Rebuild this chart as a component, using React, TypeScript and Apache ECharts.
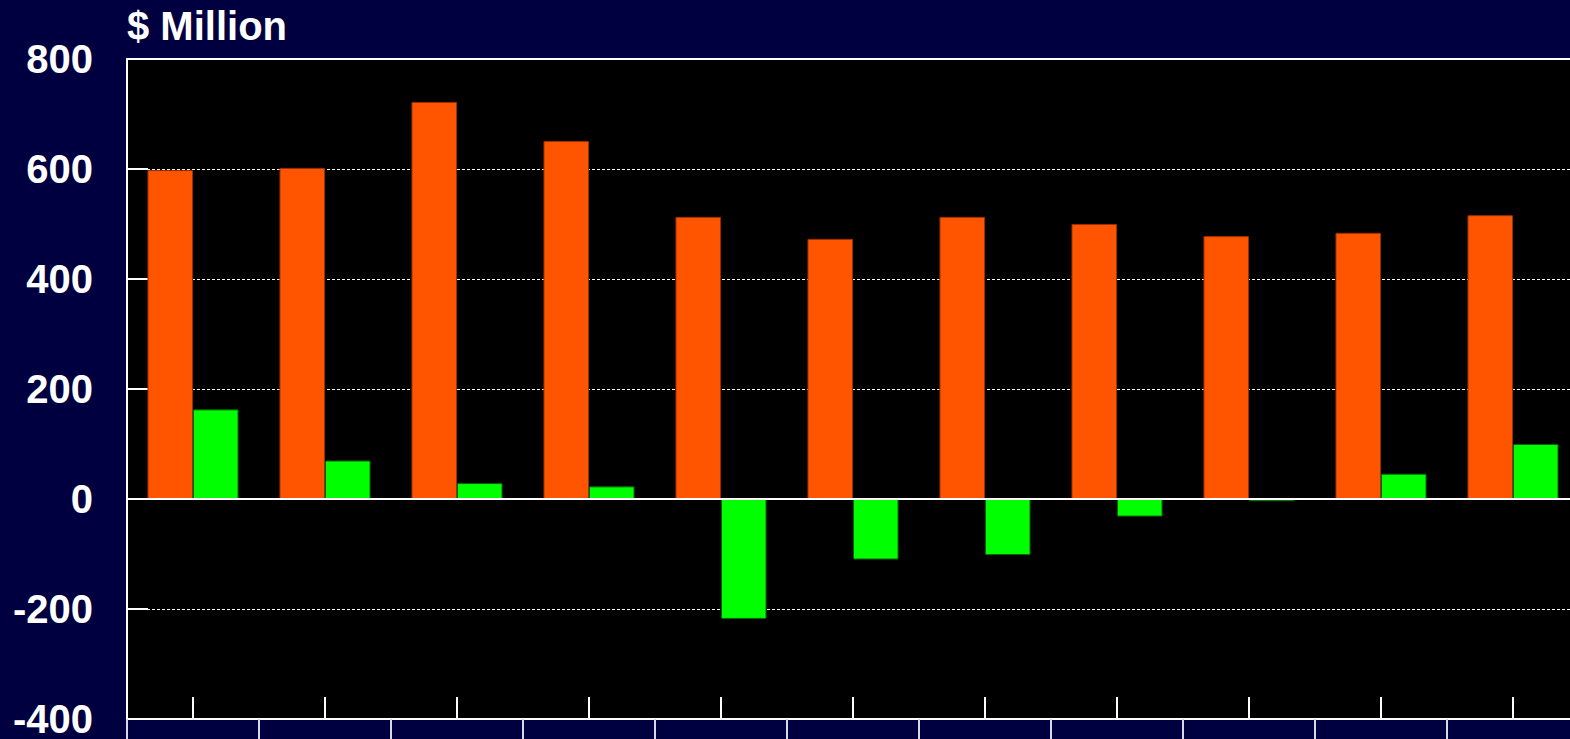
import React, { useEffect, useRef } from "react";
import * as echarts from "echarts";

const categories = ["1", "2", "3", "4", "5", "6", "7", "8", "9", "10", "11"];
const orangeValues = [598, 602, 722, 651, 513, 473, 513, 500, 478, 484, 516];
const greenValues = [163, 70, 29, 23, -218, -110, -102, -32, -4, 46, 100];
const yTicks = { min: -400, max: 800, interval: 200 };
const unitTitle = "$ Million";

const FONT = "'Liberation Sans', Arial, Helvetica, sans-serif";

export default function App() {
  const ref = useRef<HTMLDivElement>(null);
  useEffect(() => {
    document.body.style.margin = "0";
    document.body.style.overflow = "hidden";
    const chart = echarts.init(ref.current!, null, { renderer: "svg" });
    const hiddenAxis = {
      type: "category",
      data: categories,
      axisLabel: { show: false },
      splitLine: { show: false },
    };
    chart.setOption({
      animation: false,
      backgroundColor: "#000040",
      textStyle: { fontFamily: FONT },
      title: {
        text: unitTitle,
        left: 122,
        top: 1,
        textStyle: { color: "#fff", fontSize: 40, fontWeight: "bold", fontFamily: FONT },
      },
      grid: {
        left: 127,
        right: 1,
        top: 59,
        bottom: 17,
        show: true,
        backgroundColor: "#000000",
        borderWidth: 0,
      },
      xAxis: [
        {
          ...hiddenAxis,
          position: "bottom",
          z: 10,
          axisLine: { show: true, onZero: true, lineStyle: { color: "#ffffff", width: 2 } },
          axisTick: { show: false },
        },
        {
          ...hiddenAxis,
          position: "bottom",
          axisLine: { show: true, onZero: false, lineStyle: { color: "#ffffff", width: 2 } },
          axisTick: { show: true, inside: true, alignWithLabel: true, length: 22, lineStyle: { color: "#ffffff", width: 2 } },
        },
        {
          ...hiddenAxis,
          position: "bottom",
          axisLine: { show: false, onZero: false },
          axisTick: { show: true, inside: false, length: 30, lineStyle: { color: "#d8d8e8", width: 2 } },
        },
        {
          ...hiddenAxis,
          position: "top",
          axisLine: { show: true, onZero: false, lineStyle: { color: "#ffffff", width: 2 } },
          axisTick: { show: false },
        },
      ],
      yAxis: {
        type: "value",
        min: yTicks.min,
        max: yTicks.max,
        interval: yTicks.interval,
        axisLine: { show: true, lineStyle: { color: "#ffffff", width: 2 } },
        axisTick: { show: true, inside: true, length: 21, lineStyle: { color: "#ffffff", width: 2 } },
        splitLine: { show: true, lineStyle: { color: "#ffffff", type: [3, 2], width: 1 } },
        axisLabel: {
          color: "#ffffff",
          fontSize: 40,
          fontWeight: "bold",
          fontFamily: FONT,
          margin: 34,
        },
      },
      series: [
        {
          name: "Orange",
          type: "bar",
          xAxisIndex: 0,
          data: orangeValues,
          barGap: "0%",
          barCategoryGap: "31%",
          itemStyle: { color: "#FF5500", borderColor: "#9a3000", borderWidth: 1 },
        },
        {
          name: "Green",
          type: "bar",
          xAxisIndex: 0,
          data: greenValues,
          itemStyle: { color: "#00FF00", borderColor: "#006400", borderWidth: 1 },
        },
      ],
    });
    return () => chart.dispose();
  }, []);
  return (
    <div style={{ position: "fixed", left: 0, top: 0, width: 1570, height: 739, overflow: "hidden" }}>
      <div ref={ref} style={{ width: 1580, height: 739 }} />
    </div>
  );
}
